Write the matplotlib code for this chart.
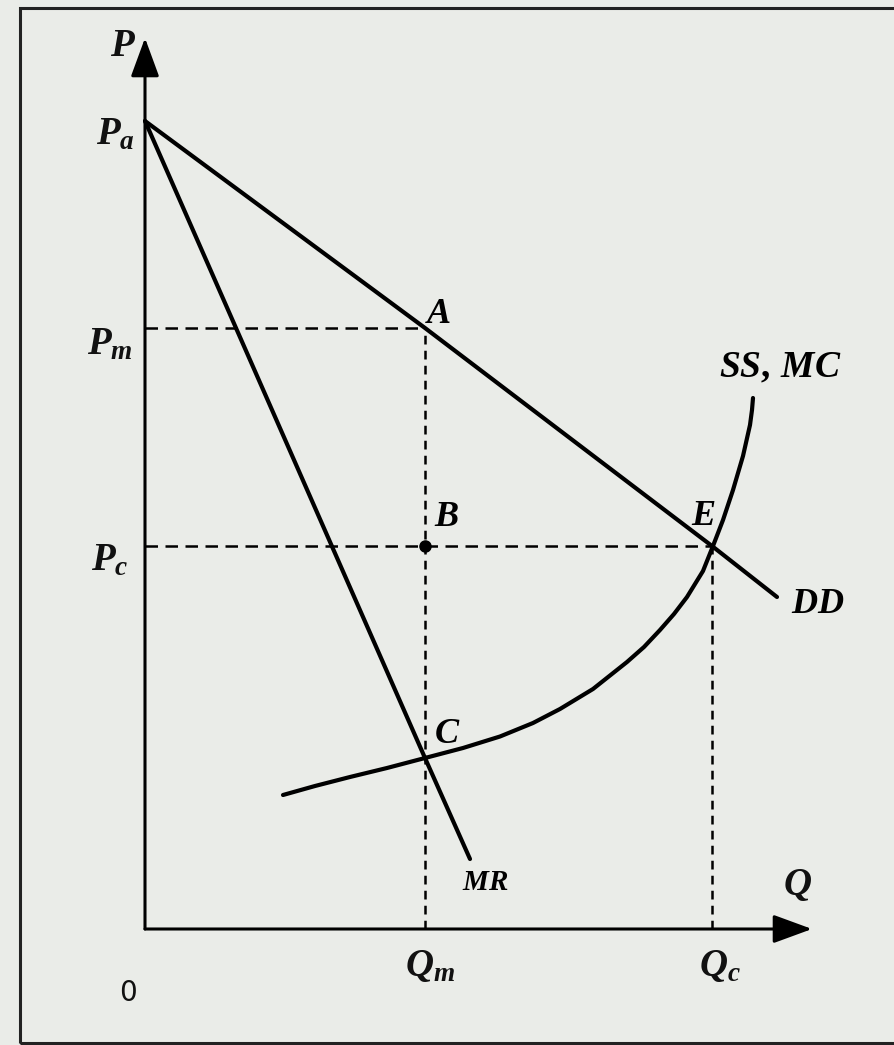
import matplotlib
matplotlib.use("Agg")
import matplotlib.pyplot as plt
from matplotlib.patches import Rectangle

plt.rcParams['mathtext.fontset'] = 'custom'
plt.rcParams['mathtext.it'] = 'Liberation Serif:italic:bold'
plt.rcParams['mathtext.rm'] = 'Liberation Serif:bold'

# key levels (Q, P units)
p_a = 80.8
p_m = 60.1
p_c = 38.3
q_m = 28.0
q_c = 56.7

# demand DD and marginal revenue MR (straight lines, start at P_a)
dd_q = [0, q_m, q_c, 63.2]
dd_p = [p_a, p_m, p_c, 33.2]
mr_q = [0, q_m, 32.5]
mr_p = [p_a, 17.1, 7.0]

# supply / marginal cost curve SS, MC
mc_q = [13.8, 17.0, 20.5, 24.2, 28.0, 31.8, 35.5, 38.8, 41.5, 44.8, 48.2,
        49.9, 51.5, 52.9, 54.2, 55.8, 56.8, 57.8, 58.8, 59.8, 60.5, 60.7,
        60.8]
mc_p = [13.4, 14.3, 15.2, 16.1, 17.1, 18.1, 19.25, 20.6, 22.0, 24.0, 26.7,
        28.2, 29.9, 31.5, 33.2, 35.8, 38.3, 40.9, 43.9, 47.3, 50.4, 51.9,
        53.1]

fig = plt.figure(figsize=(8.95, 10.45), dpi=100)
fig.patch.set_facecolor('#eaece8')
ax = fig.add_axes([0, 0, 1, 1])
ax.set_facecolor('#eaece8')
ax.set_xlim(-14.5, 75.0)
ax.set_ylim(-11.6, 92.9)
ax.axis('off')

# page frame
ax.add_patch(Rectangle((-12.5, -11.4), 100, 103.5, fill=False, lw=2.2,
                       ec='#222222', clip_on=False))

# axes with arrows
ax.annotate('', xy=(0, 89.1), xytext=(0, 0),
            arrowprops=dict(arrowstyle='-|>,head_length=0.6,head_width=0.22',
                            mutation_scale=40, lw=2.2, color='k',
                            shrinkA=0, shrinkB=0))
ax.annotate('', xy=(66.7, 0), xytext=(0, 0),
            arrowprops=dict(arrowstyle='-|>,head_length=0.6,head_width=0.22',
                            mutation_scale=40, lw=2.2, color='k',
                            shrinkA=0, shrinkB=0))

# guide lines
ax.plot([0, q_m], [p_m, p_m], color='k', lw=1.8, ls=(0, (5, 3)))
ax.plot([0, q_c], [p_c, p_c], color='k', lw=1.8, ls=(0, (5, 3)))
ax.plot([q_m, q_m], [0, p_m], color='k', lw=1.8, ls=(0, (3.5, 2.5)))
ax.plot([q_c, q_c], [0, p_c], color='k', lw=1.8, ls=(0, (3.5, 2.5)))

# curves
ax.plot(dd_q, dd_p, color='k', lw=3.0, solid_capstyle='round')
ax.plot(mr_q, mr_p, color='k', lw=3.0, solid_capstyle='round')
ax.plot(mc_q, mc_p, color='k', lw=3.0, solid_capstyle='round',
        solid_joinstyle='round')
ax.plot([q_m], [p_c], 'o', color='k', ms=8)

lab = dict(fontsize=28, ha='center', va='center', color='#111111')
ax.text(-2.2, 88.4, r'$P$', **lab)
ax.text(-3.0, 79.6, r'$P_a$', **lab)
ax.text(-3.5, 58.6, r'$P_m$', **lab)
ax.text(-3.5, 37.0, r'$P_c$', **lab)
ax.text(29.3, 61.6, r'$A$', fontsize=26, ha='center', va='center')
ax.text(30.2, 41.3, r'$B$', fontsize=26, ha='center', va='center')
ax.text(55.8, 41.4, r'$E$', fontsize=26, ha='center', va='center')
ax.text(30.2, 19.6, r'$C$', fontsize=26, ha='center', va='center')
ax.text(63.5, 56.2, r'$SS,\,MC$', fontsize=27, ha='center', va='center')
ax.text(67.3, 32.6, r'$DD$', fontsize=26, ha='center', va='center')
ax.text(34.0, 4.7, r'$MR$', fontsize=21, ha='center', va='center')
ax.text(65.2, 4.5, r'$Q$', **lab)
ax.text(q_m + 0.5, -3.6, r'$Q_m$', **lab)
ax.text(q_c + 0.8, -3.6, r'$Q_c$', **lab)
ax.text(-1.7, -6.4, '0', fontsize=20, ha='center', va='center',
        family='DejaVu Sans', color='#111111')

fig.savefig('out.png', dpi=100, facecolor=fig.get_facecolor())
